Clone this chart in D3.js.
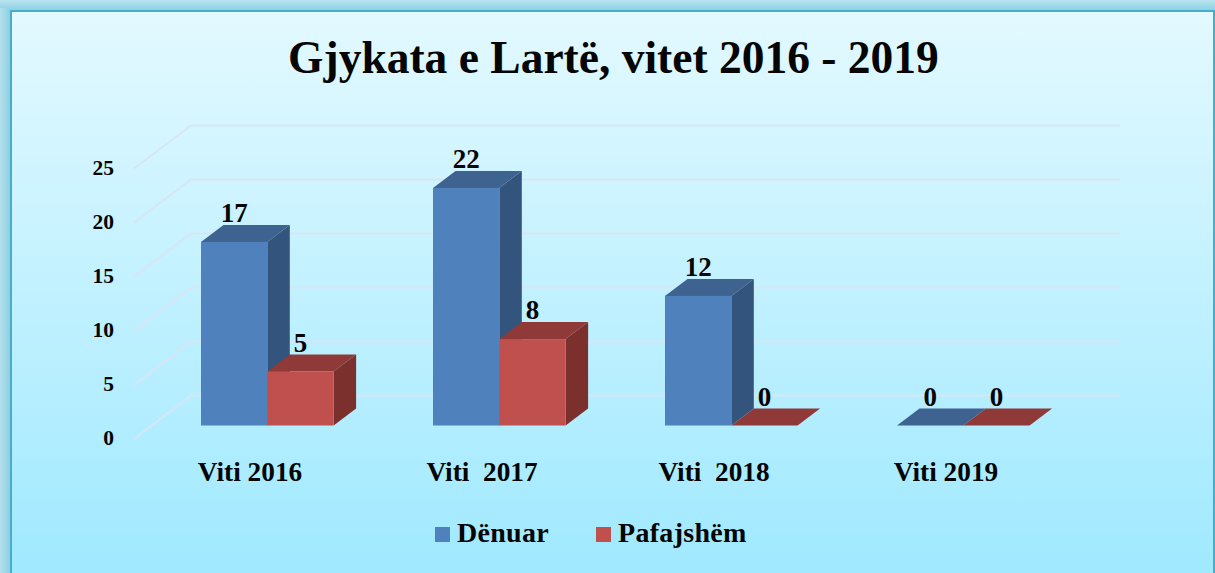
<!DOCTYPE html>
<html><head><meta charset="utf-8">
<script src="https://cdn.jsdelivr.net/npm/d3@7/dist/d3.min.js"></script>
<style>html,body{margin:0;padding:0;background:#fff;overflow:hidden}svg{display:block}text{font-family:"Liberation Serif",serif;font-weight:bold;fill:#050505;white-space:pre}</style>
</head><body><svg id="c" width="1215" height="573"></svg>
<script>
const chartTitle = "Gjykata e Lartë, vitet 2016 - 2019";
const categories = ["Viti 2016", "Viti  2017", "Viti  2018", "Viti 2019"];
const seriesNames = ["Dënuar", "Pafajshëm"];
const denuar = [17, 22, 12, 0];
const pafajshem = [5, 8, 0, 0];
const yTicks = [0, 5, 10, 15, 20, 25];
const seriesValues = [denuar, pafajshem];
const faces = [
  {front:"#4f81bd", top:"#3e6391", side:"#33547d"},
  {front:"#c0504d", top:"#8f3a38", side:"#7b302e"}
];

const svg = d3.select("#c");
const defs = svg.append("defs");
const g1 = defs.append("linearGradient").attr("id","bg").attr("x1",0).attr("y1",0).attr("x2",0).attr("y2",1);
g1.append("stop").attr("offset",0).attr("stop-color","#e3f9ff");
g1.append("stop").attr("offset",1).attr("stop-color","#a0e9ff");
const g2 = defs.append("linearGradient").attr("id","fr").attr("x1",0).attr("y1",0).attr("x2",0).attr("y2",1);
g2.append("stop").attr("offset",0).attr("stop-color","#b8e2ee");
g2.append("stop").attr("offset",1).attr("stop-color","#8ed2e6");
const g3 = defs.append("linearGradient").attr("id","frl").attr("x1",0).attr("y1",0).attr("x2",1).attr("y2",0);
g3.append("stop").attr("offset",0).attr("stop-color","#b4e0ec");
g3.append("stop").attr("offset",1).attr("stop-color","#8dcfe2");

svg.append("rect").attr("width",1215).attr("height",573).attr("fill","#fff");
svg.append("rect").attr("width",1215).attr("height",10).attr("fill","url(#fr)");
svg.append("rect").attr("width",10).attr("y",8).attr("height",565).attr("fill","url(#frl)");
svg.append("rect").attr("x",10).attr("y",10).attr("width",1205).attr("height",563).attr("fill","#47adc9");
svg.append("rect").attr("x",12).attr("y",12).attr("width",1201).attr("height",561).attr("fill","url(#bg)");

svg.append("text").attr("x",613.5).attr("y",73).attr("text-anchor","middle").attr("font-size",45.5).text(chartTitle);

// scales
const y = d3.scaleLinear().domain([0,25]).range([425.5,155.5]);
const x0 = d3.scaleBand().domain(categories).range([201,1129]).paddingInner(0).paddingOuter(0).align(0);
const barW = 66.3;
const depthX = 22.5, depthY = 17;
const gridFront = d3.scaleLinear().domain([0,25]).range([439,168.5]);
const gridBack = d3.scaleLinear().domain([0,25]).range([395.5,125.5]);

// gridlines and ticks
const grid = svg.append("g");
yTicks.forEach(t=>{
  grid.append("polyline")
    .attr("points",[[134,gridFront(t)],[191,gridBack(t)],[1120,gridBack(t)]].map(p=>p.join(",")).join(" "))
    .attr("fill","none").attr("stroke","#d8e5f3").attr("stroke-width",2);
  svg.append("text").attr("x",114).attr("y",gridFront(t)+6).attr("text-anchor","end").attr("font-size",21.5).text(t);
});

// bars
const bars = svg.append("g");
categories.forEach((c,i)=>{
  seriesValues.forEach((vals,s)=>{
    const v = vals[i], f = faces[s];
    const xl = x0(c)+s*barW, xr = xl+barW, yt = y(v), yb = y(0);
    const poly = pts => pts.map(p=>p.join(",")).join(" ");
    bars.append("polygon").attr("points",poly([[xr,yb],[xr+depthX,yb-depthY],[xr+depthX,yt-depthY],[xr,yt]])).attr("fill",f.side);
    bars.append("polygon").attr("points",poly([[xl,yt],[xl+depthX,yt-depthY],[xr+depthX,yt-depthY],[xr,yt]])).attr("fill",f.top);
    if(v>0) bars.append("rect").attr("x",xl).attr("y",yt).attr("width",barW).attr("height",yb-yt).attr("fill",f.front);
  });
});
// data labels above bars
categories.forEach((c,i)=>{
  seriesValues.forEach((vals,s)=>{
    const v = vals[i];
    svg.append("text").attr("x",x0(c)+s*barW+barW/2).attr("y",y(v)-depthY-3)
      .attr("text-anchor","middle").attr("font-size",27).text(v);
  });
});
// category labels
categories.forEach(c=>{
  svg.append("text").attr("x",x0(c)+49).attr("y",481).attr("text-anchor","middle").attr("font-size",27.3).text(c);
});
// legend
const legendX = [435,596], legendTextX = [457,618];
seriesNames.forEach((n,s)=>{
  svg.append("rect").attr("x",legendX[s]).attr("y",527).attr("width",15).attr("height",15).attr("fill",faces[s].front);
  svg.append("text").attr("x",legendTextX[s]).attr("y",542).attr("font-size",28).attr("letter-spacing",0.3).text(n);
});
</script></body></html>
